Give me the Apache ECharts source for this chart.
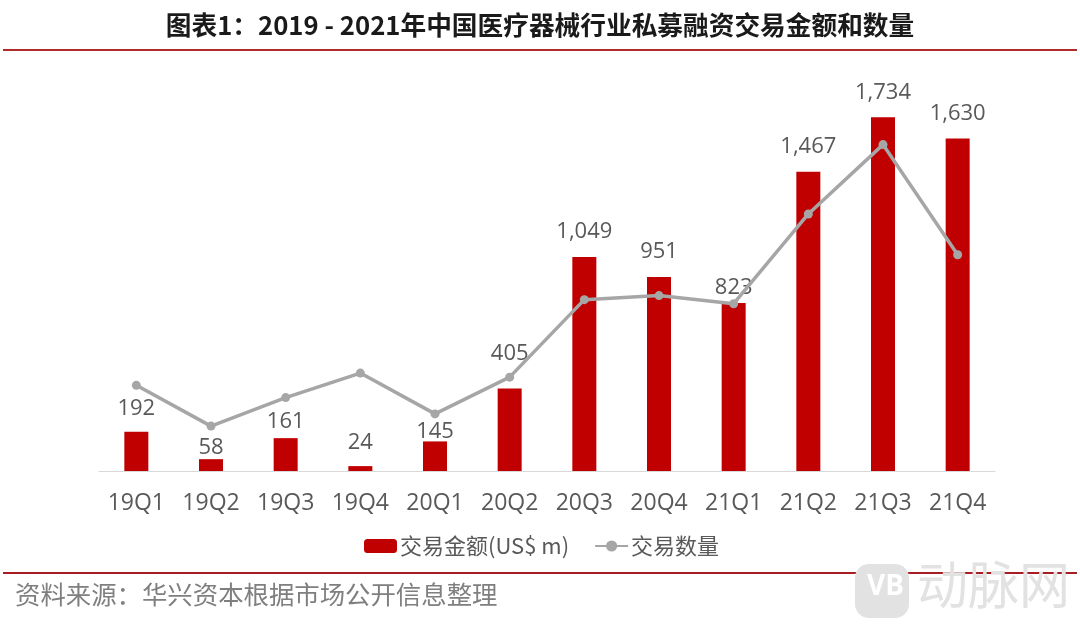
<!DOCTYPE html>
<html>
	<head>
		<meta charset="utf-8">
		<title>ECharts</title>
		<script src="https://cdn.jsdelivr.net/npm/echarts@6/dist/echarts.min.js"></script>
		<style>
			html, body { margin: 0; padding: 0; background: #fff; }
		</style>
	</head>
	<body>
		<div id="main" style="width:1080px;height:628px"></div>
		<script type="text/javascript">
			var myChart = echarts.init(document.getElementById('main'));
			var font = '"Noto Sans CJK SC", "Open Sans", sans-serif';
			var quarters = ['19Q1', '19Q2', '19Q3', '19Q4', '20Q1', '20Q2', '20Q3', '20Q4', '21Q1', '21Q2', '21Q3', '21Q4'];
			var amount = [192, 58, 161, 24, 145, 405, 1049, 951, 823, 1467, 1734, 1630];
			var deals = [21, 11, 18, 24, 14, 23, 42, 43, 41, 63, 80, 53];
			// some labels sit off their usual spot so the line doesn't run through them
			var labelShift = { '19Q1': 2, '19Q2': 14, '19Q3': 9, '19Q4': 2, '20Q1': 15, '20Q2': -10, '21Q1': 10 };

			var barData = [];
			for (var i in amount) {
				barData.push({
					value: amount[i],
					label: { offset: [0, labelShift[quarters[i]] || 0] }
				});
			}

			var option = {
				animation: false,
				textStyle: { fontFamily: font },
				title: {
					text: '图表1：2019 - 2021年中国医疗器械行业私募融资交易金额和数量',
					left: 'center',
					top: 7,
					textStyle: { fontSize: 25.7, fontWeight: 'bold', color: '#1a1a1a', fontFamily: font }
				},
				legend: {
					bottom: 66,
					left: 359,
					itemGap: 25,
					itemWidth: 33,
					itemHeight: 14,
					textStyle: { fontSize: 22, color: '#595959', fontFamily: font, padding: [0, 0, 0, -2] },
					data: ['交易金额(US$ m)', '交易数量']
				},
				grid: { left: 99, right: 85, top: 63, bottom: 157 },
				xAxis: {
					type: 'category',
					data: quarters,
					axisTick: { show: false },
					axisLine: { lineStyle: { color: '#d9d9d9', width: 1 } },
					axisLabel: { fontSize: 23, color: '#595959', margin: 21, interval: 0, fontFamily: 'Open Sans' }
				},
				yAxis: [
					{ type: 'value', min: 0, max: 2000, show: false },
					{ type: 'value', min: 0, max: 100, show: false }
				],
				series: [
					{
						name: '交易金额(US$ m)',
						type: 'bar',
						data: barData,
						barWidth: 24,
						itemStyle: { color: '#c00000' },
						label: {
							show: true,
							position: 'top',
							distance: 14,
							fontSize: 22,
							color: '#595959',
							fontFamily: 'Open Sans',
							formatter: function(p) { return p.value.toLocaleString('en-US'); }
						}
					},
					{
						name: '交易数量',
						type: 'line',
						yAxisIndex: 1,
						data: deals,
						symbol: 'circle',
						symbolSize: 9,
						lineStyle: { color: '#a6a6a6', width: 3.5 },
						itemStyle: { color: '#a6a6a6' }
					}
				],
				graphic: [
					{ type: 'rect', shape: { x: 3, y: 49, width: 1074, height: 2 }, style: { fill: '#b02a2a' } },
					{ type: 'rect', shape: { x: 3, y: 572, width: 1074, height: 2 }, style: { fill: '#a81c24' } },
					{ type: 'rect', shape: { x: 855, y: 564, width: 54, height: 54, r: 14 }, style: { fill: '#e2e2e2' } },
					{ type: 'text', left: 867, top: 573, style: { text: 'VB', fontSize: 28, fontWeight: 'bold', fill: '#ffffff', fontFamily: 'Open Sans' } },
					{ type: 'text', left: 917, top: 559, style: { text: '动脉网', fontSize: 51, fontWeight: 'normal', fill: '#e2e2e2', fontFamily: font } },
					{ type: 'text', left: 15, top: 582, style: { text: '资料来源：华兴资本根据市场公开信息整理', fontSize: 25.4, fill: '#7f7f7f', fontFamily: font } }
				]
			};
			myChart.setOption(option);
		</script>
	</body>
</html>
